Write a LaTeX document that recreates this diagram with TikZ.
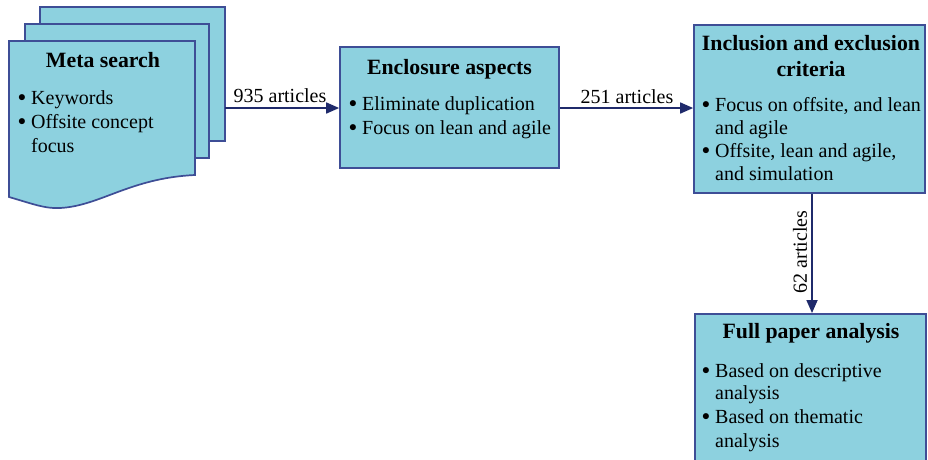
\documentclass[tikz,border=0pt]{standalone}
\usepackage{fontspec}
\setmainfont{Liberation Serif}
\usetikzlibrary{arrows.meta}
\definecolor{boxfill}{HTML}{8DD1DF}
\definecolor{boxline}{HTML}{3E4E96}
\definecolor{arrowcol}{HTML}{1F2A6B}
\tikzset{
  panel/.style={draw=boxline, fill=boxfill, line width=1.7pt},
  head/.style={font=\fontsize{21.8}{24}\selectfont\bfseries, align=center, inner sep=0pt},
  bul/.style={font=\fontsize{20}{23.5}\selectfont, anchor=base west, inner sep=0pt},
  flow/.style={draw=arrowcol, line width=1.7pt, -{Triangle[length=13pt,width=11pt]}},
  lbl/.style={font=\fontsize{20}{23.5}\selectfont, inner sep=0pt},
}
\newcommand{\bdot}{\makebox[13pt][l]{\raisebox{0.3ex}{\scalebox{0.75}{$\bullet$}}}}
\begin{document}
\begin{tikzpicture}[x=1pt, y=-1pt]
\useasboundingbox (0,0) rectangle (928,459);

% stacked document pages
\draw[panel] (40,7) rectangle (225,141);
\draw[panel] (25,24) rectangle (209,158);
\draw[panel] (9,41) -- (195,41) -- (195,175)
  .. controls (130,178) and (100,206) .. (60,208)
  .. controls (45,209) and (30,203) .. (9,197) -- cycle;
\coordinate (docout) at (225,108);
\node[head] (mh) at (103,60) {Meta search};
\node[bul] (m1) at (18,104) {\bdot Keywords};
\node[bul] (m2) at (18,128) {\bdot Offsite concept};
\node[bul] (m3) at (31,152) {focus};

% enclosure aspects
\node[panel, minimum width=219pt, minimum height=121pt, inner sep=0pt] (enc) at (449.5,107.5) {};
\node[head] (eh) at (449.5,69) {Enclosure aspects};
\node[bul] (e1) at (349,110) {\bdot Eliminate duplication};
\node[bul] (e2) at (349,134) {\bdot Focus on lean and agile};

% inclusion / exclusion criteria
\node[panel, minimum width=231pt, minimum height=168pt, inner sep=0pt] (inc) at (809.5,109) {};
\node[head] (ih1) at (811,43) {Inclusion and exclusion};
\node[head] (ih2) at (811,69) {criteria};
\node[bul] (i1) at (702,111) {\bdot Focus on offsite, and lean};
\node[bul] (i2) at (715,134) {and agile};
\node[bul] (i3) at (702,157) {\bdot Offsite, lean and agile,};
\node[bul] (i4) at (715,180) {and simulation};

% full paper analysis
\node[panel, minimum width=231pt, minimum height=160pt, inner sep=0pt, anchor=north west] (full) at (694,313) {};
\node[head] (fh) at (811,333) {Full paper analysis};
\node[bul] (f1) at (702,377) {\bdot Based on descriptive};
\node[bul] (f2) at (715,399) {analysis};
\node[bul] (f3) at (702,423) {\bdot Based on thematic};
\node[bul] (f4) at (715,447) {analysis};

% connectors
\draw[flow] (docout) -- (enc.west |- docout);
\draw[flow] (enc.east |- docout) -- (inc.west |- docout);
\draw[flow] (inc.south -| 812,0) -- (full.north -| 812,0);
\node[lbl] (a1) at (280,96) {935 articles};
\node[lbl] (a2) at (627,97) {251 articles};
\node[lbl, rotate=90] (a3) at (800,252) {62 articles};
\end{tikzpicture}
\end{document}
